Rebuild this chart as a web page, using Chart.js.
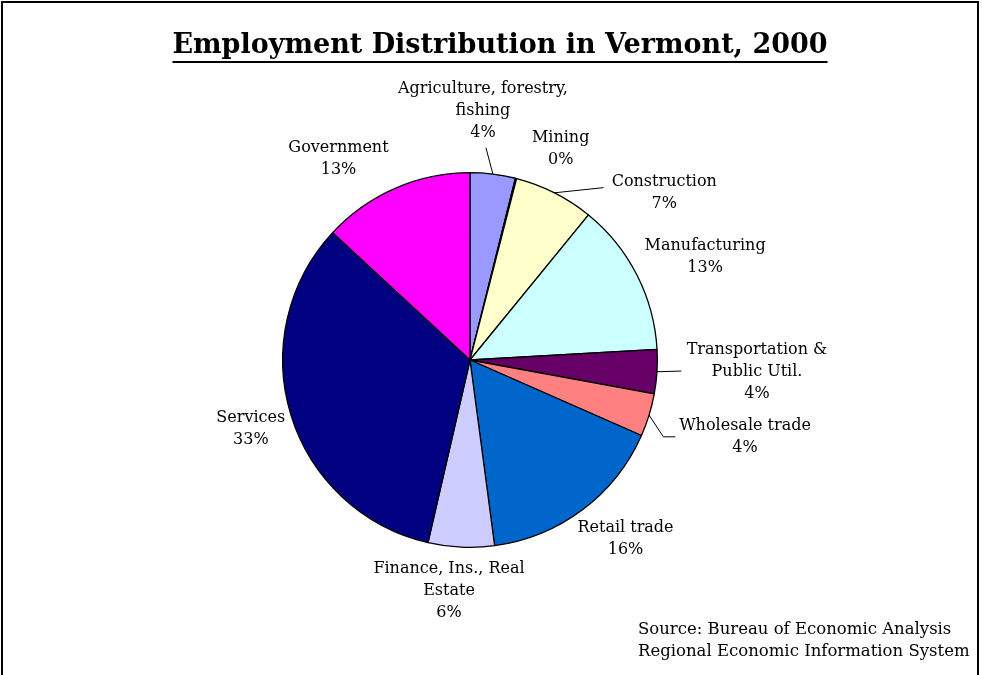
<!DOCTYPE html>
<html>
<head>
<meta charset="utf-8">
<script src="https://cdn.jsdelivr.net/npm/chart.js@4.4.1/dist/chart.umd.min.js"></script>
<style>
    html, body { margin: 0; padding: 0; background: #fff; overflow: hidden; }
    #wrap { position: relative; width: 982px; height: 675px; }
    #frame { position: absolute; left: 1px; top: 1px; width: 978px; height: 720px; border: 2px solid #000; box-sizing: border-box; pointer-events: none; }
</style>
</head>
<body>
<div id="wrap">
    <canvas id="graficaPie" width="982" height="675"></canvas>
    <div id="frame"></div>
</div>
<script>
// Datos de la gráfica
var categorias = [
    ['Agriculture, forestry,', 'fishing'],
    ['Mining'],
    ['Construction'],
    ['Manufacturing'],
    ['Transportation &', 'Public Util.'],
    ['Wholesale trade'],
    ['Retail trade'],
    ['Finance, Ins., Real', 'Estate'],
    ['Services'],
    ['Government']
];
var valores = [3.9, 0.1, 6.9, 13.2, 3.8, 3.7, 16.3, 5.7, 33.3, 13.1];
var colores = ['#9999FF', '#993366', '#FFFFCC', '#CCFFFF', '#660066', '#FF8080', '#0066CC', '#CCCCFF', '#000080', '#FF00FF'];

// Posición de las etiquetas (en radios, relativo al centro)
var posEtiquetas = [
    [0.069, -1.330], [0.484, -1.128], [1.037, -0.894], [1.255, -0.551], [1.532, 0.064],
    [1.468, 0.410], [0.830, 0.952], [-0.112, 1.234], [-1.170, 0.367], [-0.702, -1.072]
];
// Líneas guía (puntos finales, en radios)
var lineasGuia = [
    [[0.085, -1.133]], null, [[0.713, -0.920]], null, [[1.128, 0.059]],
    [[1.032, 0.410], [1.096, 0.410]], null, null, null, null
];

var fuente = '"DejaVu Serif", serif';

var pluginEtiquetas = {
    id: 'etiquetas',
    afterDatasetsDraw: function (chart) {
        var ctx = chart.ctx;
        var meta = chart.getDatasetMeta(0);
        var arc0 = meta.data[0];
        var cx = arc0.x, cy = arc0.y, r = arc0.outerRadius;
        var total = valores.reduce(function (a, b) { return a + b; }, 0);
        ctx.save();
        // líneas guía
        ctx.strokeStyle = '#000';
        ctx.lineWidth = 1;
        meta.data.forEach(function (arc, i) {
            if (!lineasGuia[i]) return;
            var mid = (arc.startAngle + arc.endAngle) / 2;
            ctx.beginPath();
            ctx.moveTo(cx + r * Math.cos(mid), cy + r * Math.sin(mid));
            lineasGuia[i].forEach(function (p) {
                ctx.lineTo(cx + p[0] * r, cy + p[1] * r);
            });
            ctx.stroke();
        });
        // textos
        ctx.fillStyle = '#000';
        ctx.font = '16px ' + fuente;
        ctx.textAlign = 'center';
        ctx.textBaseline = 'middle';
        categorias.forEach(function (lineas, i) {
            var texto = lineas.concat([Math.round(valores[i] / total * 100) + '%']);
            var x = cx + posEtiquetas[i][0] * r;
            var y = cy + posEtiquetas[i][1] * r - (texto.length - 1) * 11;
            texto.forEach(function (t, k) {
                ctx.fillText(t, x, y + k * 22);
            });
        });
        // título
        ctx.font = 'bold 27px ' + fuente;
        var titulo = 'Employment Distribution in Vermont, 2000';
        ctx.fillText(titulo, 500, 46);
        var w = ctx.measureText(titulo).width;
        ctx.fillRect(500 - w / 2, 61, w, 2);
        // fuente de datos
        ctx.font = '16.5px ' + fuente;
        ctx.textAlign = 'left';
        ctx.fillText('Source: Bureau of Economic Analysis', 638, 630);
        ctx.fillText('Regional Economic Information System', 638, 652);
        ctx.restore();
    }
};

var ctx = document.getElementById('graficaPie').getContext('2d');
var graficaPie = new Chart(ctx, {
    type: 'pie',
    data: {
        labels: categorias,
        datasets: [{
            data: valores,
            backgroundColor: colores,
            borderColor: '#000',
            borderWidth: 1.3
        }]
    },
    options: {
        responsive: false,
        animation: false,
        layout: { padding: { top: 172, bottom: 127, left: 282, right: 324 } },
        plugins: {
            legend: { display: false },
            tooltip: { enabled: false }
        }
    },
    plugins: [pluginEtiquetas]
});
</script>
</body>
</html>
